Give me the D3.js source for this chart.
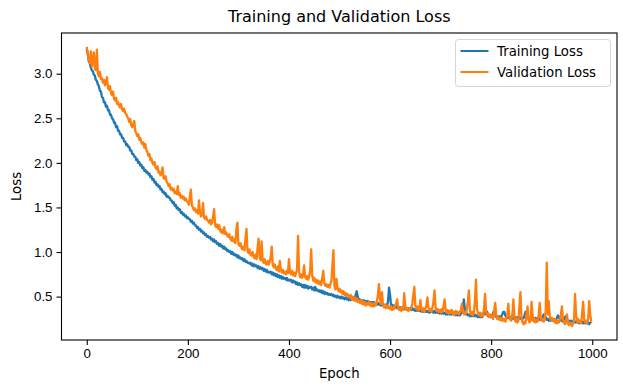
<!DOCTYPE html>
<html>
<head>
<meta charset="utf-8">
<script src="https://cdn.jsdelivr.net/npm/d3@7"></script>
<style>
    body { margin: 0; background: #fff; }
    svg { font-family: "DejaVu Sans", sans-serif; }
    .axis path, .axis line { stroke: #000; stroke-width: 1.1; }
    .axis text { font-size: 13.3px; fill: #000; }
</style>
</head>
<body>
<div id="chart"></div>
<script>
// epochs read every 2 (0..998), one row below = 40 epochs
var epochs = d3.range(0, 1000, 2);

var train_loss = [
    3.28, 3.22, 3.14, 3.12, 3.07, 3.04, 3.03, 2.99, 2.98, 2.93, 2.92, 2.88, 2.86, 2.81, 2.80, 2.74, 2.73, 2.68, 2.68, 2.63,
    2.64, 2.59, 2.59, 2.54, 2.54, 2.50, 2.49, 2.45, 2.45, 2.40, 2.41, 2.36, 2.36, 2.32, 2.32, 2.28, 2.28, 2.24, 2.24, 2.20,
    2.21, 2.18, 2.18, 2.14, 2.14, 2.10, 2.10, 2.07, 2.07, 2.03, 2.04, 2.00, 2.01, 1.97, 1.98, 1.94, 1.95, 1.91, 1.92, 1.89,
    1.90, 1.87, 1.88, 1.84, 1.85, 1.81, 1.82, 1.78, 1.79, 1.75, 1.76, 1.73, 1.74, 1.70, 1.71, 1.67, 1.68, 1.65, 1.66, 1.62,
    1.63, 1.61, 1.61, 1.58, 1.58, 1.55, 1.56, 1.52, 1.53, 1.49, 1.50, 1.47, 1.48, 1.44, 1.45, 1.42, 1.43, 1.40, 1.41, 1.38,
    1.39, 1.37, 1.37, 1.34, 1.35, 1.32, 1.33, 1.30, 1.30, 1.27, 1.28, 1.25, 1.26, 1.23, 1.24, 1.21, 1.22, 1.19, 1.20, 1.17,
    1.18, 1.16, 1.17, 1.14, 1.15, 1.12, 1.14, 1.11, 1.12, 1.09, 1.10, 1.07, 1.09, 1.06, 1.07, 1.04, 1.06, 1.03, 1.04, 1.01,
    1.02, 1.00, 1.01, 0.98, 1.00, 0.97, 0.98, 0.96, 0.97, 0.94, 0.96, 0.93, 0.94, 0.92, 0.93, 0.90, 0.92, 0.89, 0.90, 0.88,
    0.88, 0.87, 0.88, 0.85, 0.87, 0.84, 0.86, 0.84, 0.85, 0.82, 0.84, 0.81, 0.83, 0.81, 0.82, 0.79, 0.81, 0.78, 0.80, 0.77,
    0.78, 0.77, 0.78, 0.75, 0.77, 0.74, 0.76, 0.73, 0.75, 0.72, 0.74, 0.71, 0.73, 0.70, 0.72, 0.70, 0.71, 0.69, 0.71, 0.68,
    0.69, 0.68, 0.69, 0.66, 0.68, 0.66, 0.67, 0.64, 0.66, 0.63, 0.65, 0.63, 0.64, 0.61, 0.63, 0.60, 0.63, 0.60, 0.62, 0.59,
    0.61, 0.60, 0.61, 0.58, 0.60, 0.57, 0.61, 0.57, 0.58, 0.56, 0.57, 0.55, 0.57, 0.54, 0.56, 0.53, 0.55, 0.53, 0.54, 0.52,
    0.53, 0.52, 0.53, 0.51, 0.52, 0.50, 0.51, 0.49, 0.51, 0.49, 0.50, 0.48, 0.50, 0.48, 0.49, 0.47, 0.49, 0.47, 0.48, 0.46,
    0.48, 0.46, 0.48, 0.47, 0.49, 0.46, 0.52, 0.56, 0.50, 0.46, 0.47, 0.45, 0.46, 0.44, 0.46, 0.44, 0.45, 0.43, 0.45, 0.43,
    0.44, 0.43, 0.44, 0.42, 0.44, 0.42, 0.43, 0.41, 0.43, 0.41, 0.42, 0.40, 0.42, 0.40, 0.41, 0.40, 0.41, 0.39, 0.45, 0.60,
    0.52, 0.40, 0.41, 0.38, 0.40, 0.38, 0.39, 0.37, 0.39, 0.37, 0.38, 0.37, 0.38, 0.36, 0.38, 0.36, 0.37, 0.36, 0.37, 0.35,
    0.37, 0.35, 0.37, 0.35, 0.36, 0.34, 0.36, 0.34, 0.36, 0.34, 0.35, 0.33, 0.35, 0.33, 0.35, 0.33, 0.34, 0.33, 0.34, 0.32,
    0.34, 0.33, 0.34, 0.32, 0.34, 0.32, 0.33, 0.32, 0.34, 0.31, 0.33, 0.31, 0.33, 0.31, 0.32, 0.30, 0.32, 0.30, 0.32, 0.30,
    0.32, 0.30, 0.32, 0.30, 0.31, 0.29, 0.31, 0.29, 0.31, 0.29, 0.31, 0.33, 0.38, 0.47, 0.36, 0.30, 0.31, 0.29, 0.30, 0.28,
    0.30, 0.28, 0.30, 0.28, 0.30, 0.28, 0.29, 0.27, 0.29, 0.27, 0.29, 0.27, 0.29, 0.31, 0.33, 0.30, 0.33, 0.28, 0.29, 0.27,
    0.29, 0.27, 0.32, 0.34, 0.30, 0.27, 0.28, 0.26, 0.28, 0.26, 0.28, 0.30, 0.33, 0.33, 0.29, 0.27, 0.28, 0.26, 0.28, 0.26,
    0.27, 0.25, 0.27, 0.25, 0.27, 0.25, 0.27, 0.25, 0.27, 0.25, 0.26, 0.25, 0.26, 0.29, 0.33, 0.32, 0.27, 0.25, 0.26, 0.24,
    0.26, 0.24, 0.26, 0.24, 0.26, 0.24, 0.26, 0.24, 0.25, 0.24, 0.25, 0.27, 0.30, 0.29, 0.27, 0.24, 0.25, 0.23, 0.25, 0.23,
    0.25, 0.23, 0.25, 0.23, 0.24, 0.26, 0.29, 0.27, 0.24, 0.23, 0.24, 0.22, 0.24, 0.27, 0.28, 0.24, 0.23, 0.22, 0.23, 0.22,
    0.23, 0.21, 0.23, 0.21, 0.22, 0.21, 0.22, 0.20, 0.22, 0.21, 0.22, 0.20, 0.22, 0.20, 0.21, 0.20, 0.21, 0.19, 0.21, 0.20
];

var val_loss = [
    3.30, 3.22, 3.16, 3.12, 3.25, 3.08, 3.14, 3.24, 3.06, 3.04, 3.27, 3.00, 2.97, 3.02, 2.94, 2.95, 2.90, 2.93, 2.87, 2.90,
    2.96, 2.84, 2.82, 2.86, 2.78, 2.76, 2.80, 2.72, 2.70, 2.73, 2.66, 2.68, 2.64, 2.62, 2.66, 2.60, 2.58, 2.61, 2.56, 2.55,
    2.52, 2.50, 2.46, 2.49, 2.42, 2.40, 2.44, 2.47, 2.36, 2.33, 2.30, 2.32, 2.26, 2.28, 2.23, 2.21, 2.23, 2.17, 2.21, 2.14,
    2.12, 2.08, 2.10, 2.03, 2.05, 2.00, 1.98, 2.01, 1.95, 1.93, 1.96, 1.89, 1.90, 1.86, 1.88, 1.95, 1.83, 1.82, 1.85, 1.79,
    1.77, 1.74, 1.76, 1.70, 1.72, 1.69, 1.71, 1.66, 1.68, 1.65, 1.74, 1.64, 1.66, 1.61, 1.63, 1.60, 1.62, 1.58, 1.60, 1.57,
    1.56, 1.53, 1.62, 1.70, 1.52, 1.50, 1.47, 1.49, 1.45, 1.47, 1.43, 1.58, 1.44, 1.40, 1.42, 1.55, 1.39, 1.37, 1.40, 1.36,
    1.35, 1.33, 1.36, 1.31, 1.33, 1.40, 1.48, 1.30, 1.28, 1.31, 1.26, 1.30, 1.24, 1.22, 1.25, 1.21, 1.28, 1.20, 1.22, 1.18,
    1.17, 1.20, 1.15, 1.13, 1.17, 1.12, 1.14, 1.10, 1.25, 1.33, 1.09, 1.07, 1.10, 1.05, 1.03, 1.06, 1.02, 1.15, 1.26, 1.01,
    0.99, 1.03, 0.97, 0.96, 1.00, 0.95, 0.93, 0.97, 0.92, 1.05, 1.15, 0.94, 0.91, 1.12, 0.90, 0.88, 0.92, 0.87, 0.86, 0.90,
    0.86, 0.89, 0.95, 1.06, 0.85, 0.83, 0.86, 0.81, 0.80, 0.84, 0.78, 0.90, 0.80, 0.77, 0.80, 0.76, 0.78, 0.75, 0.79, 0.76,
    0.92, 0.78, 0.75, 0.79, 0.74, 0.77, 0.73, 0.76, 0.80, 1.18, 0.78, 0.72, 0.75, 0.71, 0.74, 0.85, 0.72, 0.70, 0.73, 0.69,
    0.72, 0.80, 1.03, 0.74, 0.68, 0.71, 0.66, 0.69, 0.65, 0.68, 0.64, 0.67, 0.63, 0.72, 0.79, 0.65, 0.62, 0.64, 0.61, 0.63,
    0.60, 0.64, 0.68, 0.85, 1.02, 0.62, 0.58, 0.70, 0.60, 0.56, 0.59, 0.55, 0.57, 0.53, 0.56, 0.52, 0.54, 0.51, 0.53, 0.50,
    0.49, 0.52, 0.47, 0.50, 0.46, 0.49, 0.45, 0.48, 0.44, 0.46, 0.43, 0.46, 0.42, 0.45, 0.41, 0.44, 0.40, 0.43, 0.41, 0.44,
    0.40, 0.43, 0.39, 0.42, 0.39, 0.43, 0.40, 0.45, 0.52, 0.64, 0.47, 0.42, 0.55, 0.41, 0.38, 0.41, 0.37, 0.40, 0.37, 0.39,
    0.36, 0.39, 0.35, 0.38, 0.36, 0.40, 0.42, 0.47, 0.38, 0.35, 0.37, 0.34, 0.38, 0.35, 0.54, 0.40, 0.35, 0.37, 0.34, 0.36,
    0.35, 0.38, 0.42, 0.52, 0.61, 0.40, 0.36, 0.39, 0.34, 0.37, 0.46, 0.36, 0.34, 0.37, 0.33, 0.36, 0.41, 0.49, 0.37, 0.34,
    0.36, 0.33, 0.38, 0.45, 0.57, 0.38, 0.34, 0.36, 0.33, 0.35, 0.32, 0.36, 0.33, 0.40, 0.47, 0.35, 0.32, 0.35, 0.31, 0.34,
    0.32, 0.35, 0.31, 0.33, 0.30, 0.34, 0.31, 0.33, 0.30, 0.32, 0.35, 0.42, 0.33, 0.30, 0.33, 0.31, 0.36, 0.45, 0.57, 0.34,
    0.30, 0.33, 0.29, 0.32, 0.45, 0.69, 0.36, 0.31, 0.29, 0.32, 0.28, 0.31, 0.28, 0.38, 0.53, 0.33, 0.29, 0.31, 0.27, 0.30,
    0.27, 0.29, 0.25, 0.35, 0.43, 0.30, 0.25, 0.27, 0.24, 0.26, 0.23, 0.26, 0.23, 0.25, 0.22, 0.25, 0.30, 0.42, 0.28, 0.24,
    0.23, 0.30, 0.47, 0.28, 0.22, 0.25, 0.21, 0.23, 0.40, 0.55, 0.26, 0.21, 0.19, 0.22, 0.20, 0.30, 0.39, 0.24, 0.21, 0.23,
    0.44, 0.28, 0.22, 0.25, 0.21, 0.24, 0.22, 0.30, 0.43, 0.26, 0.23, 0.25, 0.22, 0.24, 0.35, 0.88, 0.30, 0.45, 0.27, 0.24,
    0.26, 0.23, 0.25, 0.21, 0.24, 0.20, 0.23, 0.21, 0.24, 0.30, 0.39, 0.24, 0.21, 0.19, 0.22, 0.30, 0.20, 0.18, 0.21, 0.19,
    0.17, 0.20, 0.24, 0.53, 0.30, 0.22, 0.25, 0.21, 0.23, 0.20, 0.31, 0.44, 0.25, 0.21, 0.23, 0.20, 0.26, 0.45, 0.30, 0.22
];

var x_ticks = [0, 200, 400, 600, 800, 1000];
var y_ticks = [0.5, 1.0, 1.5, 2.0, 2.5, 3.0];
var series_names = ["Training Loss", "Validation Loss"];
var series_colors = ["#1f77b4", "#ff7f0e"];

var width = 623, height = 390;
var margin = {left: 61.5, right: 6, top: 33, bottom: 50};

var svg = d3.select("#chart").append("svg")
    .attr("width", width)
    .attr("height", height);

// matplotlib style 5% padding on both axes
var xExt = [0, 999];
var xPad = (xExt[1] - xExt[0]) * 0.05;
var yExt = d3.extent(train_loss.concat(val_loss));
var yPad = (yExt[1] - yExt[0]) * 0.05;

var xScale = d3.scaleLinear()
    .domain([xExt[0] - xPad, xExt[1] + xPad])
    .range([margin.left, width - margin.right]);

var yScale = d3.scaleLinear()
    .domain([yExt[0] - yPad, yExt[1] + yPad])
    .range([height - margin.bottom, margin.top]);

var line = d3.line()
    .x(function(d) { return xScale(d[0]); })
    .y(function(d) { return yScale(d[1]); });

var plot = svg.append("g");
[train_loss, val_loss].forEach(function(vals, i) {
    plot.append("path")
        .attr("d", line(epochs.map(function(e, j) { return [e, vals[j]]; })))
        .attr("fill", "none")
        .attr("stroke", series_colors[i])
        .attr("stroke-width", 2.3)
        .attr("stroke-linejoin", "round");
});

svg.append("g")
    .attr("class", "x axis")
    .attr("transform", "translate(0," + (height - margin.bottom) + ")")
    .call(d3.axisBottom(xScale).tickValues(x_ticks).tickSize(5).tickPadding(4).tickFormat(d3.format("d")))
    .call(function(g) { g.select(".domain").remove(); });

svg.append("g")
    .attr("class", "y axis")
    .attr("transform", "translate(" + margin.left + ",0)")
    .call(d3.axisLeft(yScale).tickValues(y_ticks).tickSize(5).tickPadding(4).tickFormat(d3.format(".1f")))
    .call(function(g) { g.select(".domain").remove(); });

// frame
svg.append("rect")
    .attr("x", margin.left)
    .attr("y", margin.top)
    .attr("width", width - margin.left - margin.right)
    .attr("height", height - margin.top - margin.bottom)
    .attr("fill", "none")
    .attr("stroke", "#000")
    .attr("stroke-width", 1.1);

svg.append("text")
    .attr("x", (margin.left + width - margin.right) / 2)
    .attr("y", 22)
    .attr("text-anchor", "middle")
    .attr("font-size", "16px")
    .text("Training and Validation Loss");

svg.append("text")
    .attr("x", (margin.left + width - margin.right) / 2)
    .attr("y", 378)
    .attr("text-anchor", "middle")
    .attr("font-size", "13.3px")
    .text("Epoch");

svg.append("text")
    .attr("text-anchor", "middle")
    .attr("transform", "translate(21," + ((margin.top + height - margin.bottom) / 2) + ")rotate(-90)")
    .attr("font-size", "13.3px")
    .text("Loss");

// legend
var legend = svg.append("g").attr("transform", "translate(455.5,39.5)");
legend.append("rect")
    .attr("width", 155)
    .attr("height", 47)
    .attr("rx", 3)
    .attr("fill", "#fff")
    .attr("fill-opacity", 0.8)
    .attr("stroke", "#d6d6d6")
    .attr("stroke-width", 1);

series_names.forEach(function(name, i) {
    var ly = 11.5 + i * 21;
    legend.append("line")
        .attr("x1", 5).attr("x2", 33)
        .attr("y1", ly).attr("y2", ly)
        .attr("stroke", series_colors[i])
        .attr("stroke-width", 2);
    legend.append("text")
        .attr("x", 41.5)
        .attr("y", ly)
        .attr("dy", "0.35em")
        .attr("font-size", "13.3px")
        .text(name);
});
</script>
</body>
</html>
